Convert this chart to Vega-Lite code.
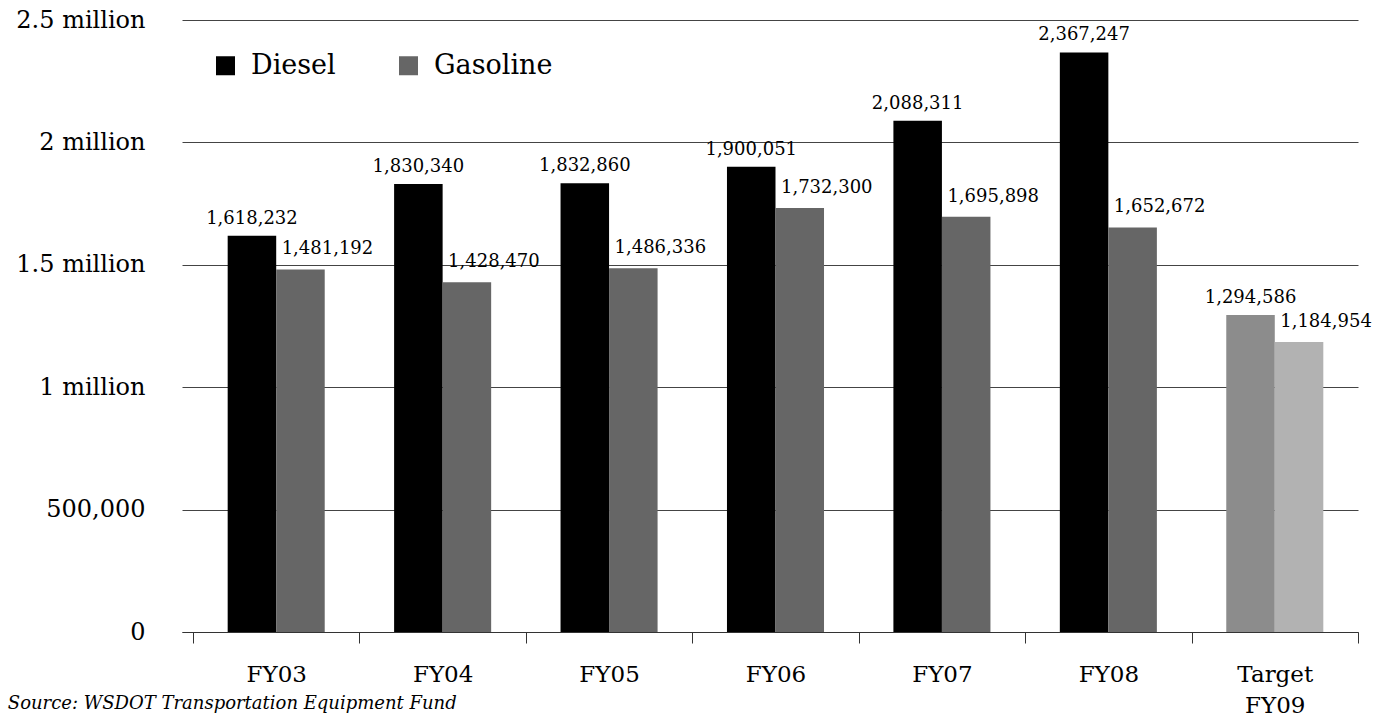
{
  "$schema": "https://vega.github.io/schema/vega-lite/v6.json",
  "autosize": {"type": "none"},
  "width": 1176,
  "height": 612,
  "padding": {"left": 182, "top": 20, "right": 36, "bottom": 89},
  "background": "white",
  "config": {
    "view": {"stroke": null},
    "font": "DejaVu Serif",
    "axis": {"labelFont": "DejaVu Serif", "labelColor": "black"},
    "legend": {"labelFont": "DejaVu Serif"},
    "title": {"font": "DejaVu Serif"}
  },
  "title": {
    "text": "Source: WSDOT Transportation Equipment Fund",
    "orient": "bottom",
    "anchor": "start",
    "frame": "bounds",
    "fontStyle": "italic",
    "fontWeight": "normal",
    "fontSize": 18,
    "color": "black",
    "offset": -22,
    "dx": -8
  },
  "data": {
    "values": [
      {"year": "FY03", "fuel": "Diesel", "shade": "Diesel", "value": 1618232},
      {"year": "FY03", "fuel": "Gasoline", "shade": "Gasoline", "value": 1481192},
      {"year": "FY04", "fuel": "Diesel", "shade": "Diesel", "value": 1830340},
      {"year": "FY04", "fuel": "Gasoline", "shade": "Gasoline", "value": 1428470},
      {"year": "FY05", "fuel": "Diesel", "shade": "Diesel", "value": 1832860},
      {"year": "FY05", "fuel": "Gasoline", "shade": "Gasoline", "value": 1486336},
      {"year": "FY06", "fuel": "Diesel", "shade": "Diesel", "value": 1900051},
      {"year": "FY06", "fuel": "Gasoline", "shade": "Gasoline", "value": 1732300},
      {"year": "FY07", "fuel": "Diesel", "shade": "Diesel", "value": 2088311},
      {"year": "FY07", "fuel": "Gasoline", "shade": "Gasoline", "value": 1695898},
      {"year": "FY08", "fuel": "Diesel", "shade": "Diesel", "value": 2367247},
      {"year": "FY08", "fuel": "Gasoline", "shade": "Gasoline", "value": 1652672},
      {"year": "Target FY09", "fuel": "Diesel", "shade": "Target Diesel", "value": 1294586},
      {"year": "Target FY09", "fuel": "Gasoline", "shade": "Target Gasoline", "value": 1184954}
    ]
  },
  "encoding": {
    "x": {
      "field": "year",
      "type": "nominal",
      "sort": null,
      "scale": {"paddingInner": 0, "paddingOuter": 0.033, "align": 1},
      "axis": {
        "title": null,
        "labelAngle": 0,
        "labelFontSize": 23,
        "labelPadding": 20,
        "tickBand": "extent",
        "tickSize": 11,
        "tickColor": "#333",
        "domainColor": "#333",
        "labelExpr": "split(datum.label, ' ')",
        "labelLineHeight": 31
      }
    },
    "xOffset": {
      "field": "fuel",
      "type": "nominal",
      "scale": {"paddingInner": 0, "paddingOuter": 0.715}
    },
    "y": {
      "field": "value",
      "type": "quantitative",
      "scale": {"domain": [0, 2500000], "nice": false},
      "axis": {
        "title": null,
        "values": [0, 500000, 1000000, 1500000, 2000000, 2500000],
        "labelExpr": "datum.value >= 1000000 ? format(datum.value / 1000000, '') + ' million' : format(datum.value, ',')",
        "labelFontSize": 24,
        "labelPadding": 37,
        "ticks": false,
        "domain": false,
        "gridColor": "#444",
        "gridWidth": 1,
        "gridOpacity": 1
      }
    }
  },
  "layer": [
    {
      "mark": {"type": "bar"},
      "encoding": {
        "color": {
          "field": "shade",
          "type": "nominal",
          "scale": {
            "domain": ["Diesel", "Gasoline", "Target Diesel", "Target Gasoline"],
            "range": ["#000000", "#666666", "#8c8c8c", "#b2b2b2"]
          },
          "legend": {
            "title": null,
            "values": ["Diesel", "Gasoline"],
            "orient": "none",
            "direction": "horizontal",
            "legendX": 30,
            "legendY": 32,
            "symbolType": "square",
            "symbolSize": 361,
            "symbolStrokeWidth": 0,
            "symbolOpacity": 1,
            "labelFontSize": 27,
            "labelColor": "black",
            "labelOffset": 12,
            "columnPadding": 59
          }
        }
      }
    },
    {
      "transform": [{"filter": "datum.fuel == 'Diesel'"}],
      "mark": {"type": "text", "baseline": "bottom", "dy": -8, "fontSize": 18, "color": "black"},
      "encoding": {"text": {"field": "value", "type": "quantitative", "format": ","}}
    },
    {
      "transform": [{"filter": "datum.fuel == 'Gasoline'"}],
      "mark": {"type": "text", "baseline": "bottom", "dy": -11, "dx": 27, "fontSize": 18, "color": "black"},
      "encoding": {"text": {"field": "value", "type": "quantitative", "format": ","}}
    }
  ]
}
